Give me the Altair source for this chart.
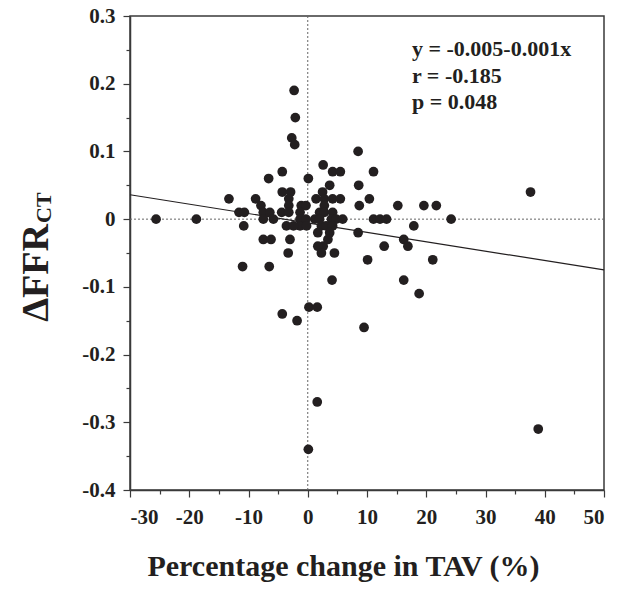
import altair as alt
import pandas as pd

# ---- data ----
tav_change = [-25.6, -18.8, -13.3, -11.6, -10.7, -10.8, -8.8, -7.9, -7.5, -6.4,
              -7.5, -5.8, -4.4, -6.6, -4.3, -4.3, -2.9, -3.2, -3.2, -3.2,
              -2.3, -2.1, -2.7, -2.2, -1.1, -0.3, -1.3, -1.3, -1.3, -3.6,
              -2.4, -0.3, -0.2, -7.5, -6.2, -3.0, -3.3, -11.0, -6.5, -4.3,
              -1.8, 0.1, 0.2, 1.6, 1.6, 0.1, 2.6, 4.2, 5.5, 11.1,
              8.5, 3.7, 8.6, 2.5, 1.4, 2.8, 4.2, 5.5, 10.4, 2.8,
              8.7, 15.2, 19.6, 21.7, 2.0, 2.8, 4.2, 1.2, 2.0, 4.0,
              4.8, 5.9, 11.1, 12.2, 13.3, 24.2, 17.9, 2.3, 3.1, 4.2,
              1.7, 3.7, 8.5, 3.4, 16.2, 2.6, 1.7, 12.9, 16.9, 2.3,
              4.5, 10.1, 21.1, 4.1, 16.2, 18.8, 9.5, 37.6, 38.9]
dffr = [0.0, 0.0, 0.03, 0.01, 0.01, -0.01, 0.03, 0.02, 0.01, 0.01,
        0.0, 0.0, 0.01, 0.06, 0.07, 0.04, 0.04, 0.03, 0.02, 0.01,
        0.19, 0.15, 0.12, 0.11, 0.02, 0.02, 0.01, 0.0, -0.01, -0.01,
        -0.01, 0.0, -0.01, -0.03, -0.03, -0.03, -0.05, -0.07, -0.07, -0.14,
        -0.15, 0.06, -0.13, -0.13, -0.27, -0.34, 0.08, 0.07, 0.07, 0.07,
        0.10, 0.05, 0.05, 0.04, 0.03, 0.03, 0.03, 0.03, 0.03, 0.02,
        0.02, 0.02, 0.02, 0.02, 0.01, 0.01, 0.01, 0.0, 0.0, 0.0,
        0.0, 0.0, 0.0, 0.0, 0.0, 0.0, -0.01, -0.01, -0.01, -0.01,
        -0.02, -0.02, -0.02, -0.03, -0.03, -0.04, -0.04, -0.04, -0.04, -0.05,
        -0.05, -0.06, -0.06, -0.09, -0.09, -0.11, -0.16, 0.04, -0.31]

fit_x = [-30, 50]
fit_y = [0.036, -0.075]

x_ticks = [-30, -25, -20, -15, -10, -5, 0, 5, 10, 15, 20, 25, 30, 35, 40, 45, 50]
y_ticks = [-0.4, -0.35, -0.3, -0.25, -0.2, -0.15, -0.1, -0.05, 0.0,
           0.05, 0.1, 0.15, 0.2, 0.25, 0.3]

stats_lines = ["y = -0.005-0.001x", "r = -0.185", "p = 0.048"]
x_title = "Percentage change in TAV (%)"
y_title_main = "\u0394FFR"
y_title_sub = "CT"

FONT = "Liberation Serif"
INK = "#231f20"
AXIS = "#3a3a3a"

pts = pd.DataFrame({"x": tav_change, "y": dffr})
fit = pd.DataFrame({"x": fit_x, "y": fit_y})
zero = pd.DataFrame({"v": [0]})
one = pd.DataFrame({"t": ["\n".join(stats_lines)]})

xs = alt.Scale(domain=[-30, 50], nice=False, zero=False)
ys = alt.Scale(domain=[-0.4, 0.3], nice=False, zero=False)

major_x = "abs(round(datum.value)) % 10 == 0"
major_y = "abs(round(datum.value*100)) % 10 == 0"

x_axis = alt.Axis(
    values=x_ticks,
    labelExpr=f"{major_x} ? '' + datum.value : ''",
    tickSize={"condition": {"test": major_x, "value": 7}, "value": 4},
    labelPadding=9,
    title=x_title, titleX=213, titleY=85, titleAlign="center",
    titleBaseline="alphabetic",
)
y_axis = alt.Axis(
    values=y_ticks,
    labelExpr=f"{major_y} ? '' + round(datum.value*10)/10 : ''",
    tickSize={"condition": {"test": major_y, "value": 7}, "value": 4},
    labelPadding=8,
    title=None,
)

X = lambda f: alt.X(f, scale=xs, axis=x_axis)
Y = lambda f: alt.Y(f, scale=ys, axis=y_axis)

points = alt.Chart(pts).mark_circle(size=95, color=INK, opacity=1).encode(
    x=X("x:Q"), y=Y("y:Q"),
)

vline = alt.Chart(zero).mark_rule(color="#666", strokeDash=[2, 2], strokeWidth=1).encode(
    x=X("v:Q")
)
hline = alt.Chart(zero).mark_rule(color="#666", strokeDash=[2, 2], strokeWidth=1).encode(
    y=Y("v:Q")
)

fit_line = alt.Chart(fit).mark_line(color=INK, strokeWidth=1.2).encode(
    x=X("x:Q"), y=Y("y:Q"),
)

stats = alt.Chart(one).mark_text(
    font=FONT, fontSize=22, fontWeight="bold", color=INK, align="left",
    baseline="alphabetic", lineBreak="\n", lineHeight=26.5,
).encode(text="t:N", x=alt.value(282), y=alt.value(40))

ytitle_main = alt.Chart(pd.DataFrame({"t": [y_title_main]})).mark_text(
    font=FONT, fontSize=38, fontWeight="bold", color=INK, angle=270,
    align="right", baseline="alphabetic",
).encode(text="t:N", x=alt.value(-82), y=alt.value(208))

ytitle_sub = alt.Chart(pd.DataFrame({"t": [y_title_sub]})).mark_text(
    font=FONT, fontSize=22, fontWeight="bold", color=INK, angle=270,
    align="left", baseline="alphabetic",
).encode(text="t:N", x=alt.value(-79), y=alt.value(207))

chart = alt.layer(
    vline, hline, fit_line, points, stats, ytitle_main, ytitle_sub
).properties(
    width=474, height=474,
    background="white",
    autosize=alt.AutoSizeParams(type="none"),
    padding={"left": 122, "top": 8, "right": 18, "bottom": 93},
).configure_view(
    stroke=AXIS, strokeWidth=1.5
).configure_axis(
    labelFont=FONT, labelFontSize=21, labelFontWeight="bold", labelColor=INK,
    labelOverlap=False, grid=False,
    domainColor=AXIS, tickColor=AXIS, domainWidth=1.5, tickWidth=1.2,
    titleFont=FONT, titleFontSize=30, titleFontWeight="bold", titleColor=INK,
)

chart.save("out.html", embed_options={"renderer": "svg", "actions": False})
